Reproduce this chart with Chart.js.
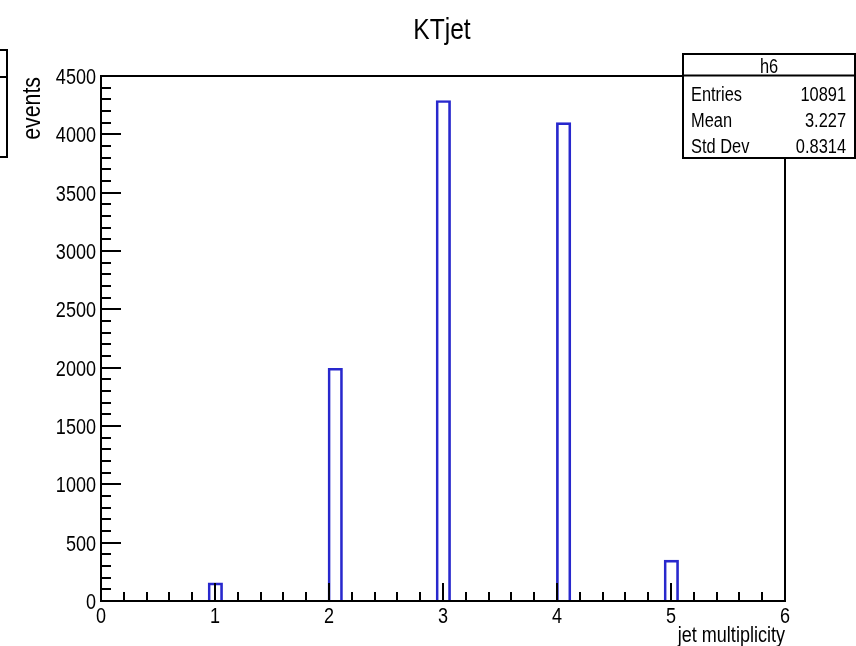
<!DOCTYPE html>
<html>
<head>
<meta charset="utf-8">
<script src="https://cdn.jsdelivr.net/npm/chart.js@4.4.1/dist/chart.umd.min.js"></script>
<style>
  html, body { margin: 0; padding: 0; background: #fff; }
  #wrap { width: 856px; height: 646px; }
</style>
</head>
<body>
<div id="wrap"><canvas id="c" width="856" height="646"></canvas></div>
<script>
// KTjet — jet multiplicity histogram (ROOT style)
// bin centres as they sit in the picture (bins don't line up exactly with integers)
const binCenters = [1.003, 2.055, 3.003, 4.058, 5.003];
const events = [155, 1995, 4290, 4100, 351];
const statLabels = ['Entries', 'Mean', 'Std Dev'];
const statValues = ['10891', '3.227', '0.8314'];
const histName = 'h6';
const chartTitle = 'KTjet';
const xTitle = 'jet multiplicity';
const yTitle = 'events';

const FONT = "'Liberation Sans', Arial, sans-serif";
const NARROW = 0.82;   // ROOT's helvetica looks squeezed in the picture
const INK = '#000';

/** draw narrow text: align in local (unscaled) units */
function narrowText(ctx, txt, x, y, size, align, rot) {
  ctx.save();
  ctx.translate(x, y);
  if (rot) ctx.rotate(rot);
  ctx.scale(NARROW, 1);
  ctx.font = size + 'px ' + FONT;
  ctx.textAlign = align;
  ctx.textBaseline = 'alphabetic';
  ctx.fillStyle = INK;
  ctx.fillText(txt, 0, 0);
  ctx.restore();
}

// frame, inward ticks, labels, titles and stats box
const rootDecor = {
  id: 'rootDecor',
  beforeDraw(chart) {
    const ctx = chart.ctx;
    ctx.save();
    ctx.fillStyle = '#fff';
    ctx.fillRect(0, 0, chart.width, chart.height);
    ctx.restore();
  },
  afterDraw(chart) {
    const ctx = chart.ctx;
    const a = chart.chartArea;
    const xs = chart.scales.x, ys = chart.scales.y;
    ctx.save();
    ctx.strokeStyle = INK;

    // frame
    ctx.lineWidth = 2;
    ctx.strokeRect(a.left, a.top, a.right - a.left, a.bottom - a.top);

    // y ticks (major 500, minor 100)
    for (let v = ys.min; v <= ys.max + 1e-6; v += 100) {
      const py = Math.round(ys.getPixelForValue(v));
      const len = (v % 500 === 0) ? 20 : 10;
      ctx.beginPath();
      ctx.moveTo(a.left, py);
      ctx.lineTo(a.left + len, py);
      ctx.stroke();
    }
    // x ticks (major 1, minor 0.2)
    for (let i = 0; i <= 30; i++) {
      const v = xs.min + i * 0.2;
      const px = Math.round(xs.getPixelForValue(v));
      const len = (i % 5 === 0) ? 18 : 9;
      ctx.beginPath();
      ctx.moveTo(px, a.bottom);
      ctx.lineTo(px, a.bottom - len);
      ctx.stroke();
    }

    // tick labels from the scales
    ys.ticks.forEach(t => {
      narrowText(ctx, String(t.value), a.left - 5, ys.getPixelForValue(t.value) + 8, 22, 'right');
    });
    xs.ticks.forEach(t => {
      narrowText(ctx, String(t.value), xs.getPixelForValue(t.value), 623, 22, 'center');
    });

    // title
    narrowText(ctx, chartTitle, 442, 39, 30, 'center');

    // axis titles
    narrowText(ctx, xTitle, a.right, 642, 22, 'right');
    narrowText(ctx, yTitle, 40, a.top + 1, 26, 'right', -Math.PI / 2);

    // stats box
    const bx = 683, by = 54, bw = 172, bh = 104;
    ctx.fillStyle = '#fff';
    ctx.fillRect(bx, by, bw, bh);
    ctx.lineWidth = 2;
    ctx.strokeRect(bx, by, bw, bh);
    ctx.beginPath();
    ctx.moveTo(bx, 75.5);
    ctx.lineTo(bx + bw, 75.5);
    ctx.stroke();
    narrowText(ctx, histName, bx + bw / 2, 73, 20, 'center');
    const rows = [101, 127, 153];
    statLabels.forEach((lab, i) => {
      narrowText(ctx, lab, 691, rows[i], 20, 'left');
      narrowText(ctx, statValues[i], 846, rows[i], 20, 'right');
    });

    // clipped legend box at the left edge
    ctx.lineWidth = 2;
    ctx.strokeRect(-4, 50, 11, 107);
    ctx.beginPath();
    ctx.moveTo(0, 77);
    ctx.lineTo(7, 77);
    ctx.stroke();

    ctx.restore();
  }
};

new Chart(document.getElementById('c'), {
  type: 'bar',
  data: {
    datasets: [{
      data: binCenters.map((c, i) => ({ x: c, y: events[i] })),
      backgroundColor: 'rgba(0,0,0,0)',
      borderColor: 'rgb(40,40,205)',
      borderWidth: 2,
      borderSkipped: 'start',
      barThickness: 14.5
    }]
  },
  options: {
    responsive: false,
    animation: false,
    events: [],
    layout: { padding: { top: 76, right: 71, left: 0, bottom: 0 } },
    plugins: { legend: { display: false }, tooltip: { enabled: false }, title: { display: false } },
    scales: {
      x: {
        type: 'linear',
        min: 0,
        max: 6,
        offset: false,
        grid: { display: false, offset: false, drawTicks: false },
        border: { display: false },
        ticks: { stepSize: 1, display: false },
        afterFit: s => { s.height = 45; }
      },
      y: {
        min: 0,
        max: 4500,
        grid: { display: false, drawTicks: false },
        border: { display: false },
        ticks: { stepSize: 500, display: false },
        afterFit: s => { s.width = 101; }
      }
    }
  },
  plugins: [rootDecor]
});
</script>
</body>
</html>
